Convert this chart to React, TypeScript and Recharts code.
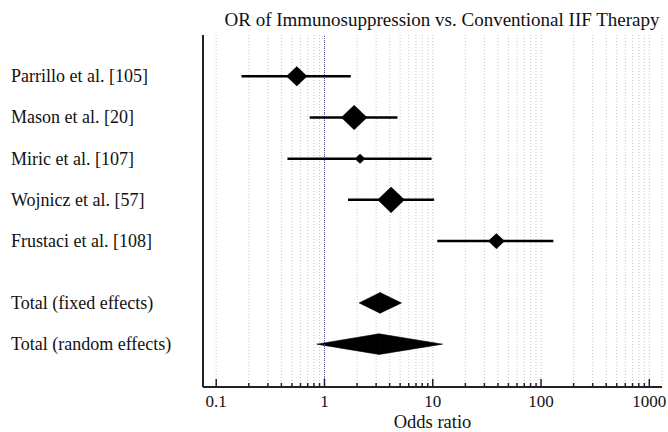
import React from "react";
import {
  ScatterChart, Scatter, XAxis, YAxis, CartesianGrid,
  ReferenceLine, ReferenceArea,
} from "recharts";

const FONT = "'Liberation Serif', 'Times New Roman', serif";

// individual studies
const studies = [
  "Parrillo et al. [105]",
  "Mason et al. [20]",
  "Miric et al. [107]",
  "Wojnicz et al. [57]",
  "Frustaci et al. [108]",
];
const studyOR = [0.555, 1.88, 2.13, 4.12, 38.7];
const studyLow = [0.171, 0.73, 0.455, 1.65, 11.0];
const studyHigh = [1.75, 4.72, 9.75, 10.3, 130];
const studyWeight = [19.5, 30.4, 4.9, 32.9, 12.3]; // % weight

// pooled estimates
const totals = ["Total (fixed effects)", "Total (random effects)"];
const totalOR = [3.26, 3.19];
const totalLow = [2.09, 0.85];
const totalHigh = [5.14, 12.3];

const majorTicks = [0.1, 1, 10, 100, 1000];
const minorSteps = [2, 3, 4, 5, 6, 7, 8, 9];

const gridTicks: number[] = [];
majorTicks.forEach((m, i) => {
  gridTicks.push(m);
  if (i < majorTicks.length - 1) minorSteps.forEach((s) => gridTicks.push(m * s));
});

const studyRows = studies.map((_, i) => i + 1);
const totalRows = totals.map((_, j) => studies.length + 1.5 + j);
const rowLabels = [...studies, ...totals];
const rowTicks = [...studyRows, ...totalRows];

const studyData = studies.map((name, i) => ({
  name, x: studyOR[i], y: studyRows[i], w: studyWeight[i],
}));

const isMajor = (v: number) => majorTicks.some((m) => Math.abs(m - v) / m < 1e-6);

const XTick = (props: any) => {
  const { x, y, payload } = props;
  const major = isMajor(payload.value);
  return (
    <g>
      <line x1={x} x2={x} y1={y} y2={y - (major ? 8 : 4)} stroke="#222" strokeWidth={1.5} />
      {major && (
        <text x={x} y={y + 20} textAnchor="middle" fontSize={17} fontFamily={FONT} fill="#111">
          {payload.value}
        </text>
      )}
    </g>
  );
};

const YTick = (props: any) => {
  const { y, payload } = props;
  const idx = rowTicks.findIndex((r) => Math.abs(r - payload.value) < 1e-6);
  return (
    <text x={11} y={y} dy="0.33em" textAnchor="start" fontSize={18} fontFamily={FONT} fill="#111">
      {rowLabels[idx]}
    </text>
  );
};

const StudyDiamond = (props: any) => {
  const { cx, cy, payload } = props;
  const h = 2.27 * Math.sqrt(payload.w);
  const w = h * 1.05;
  return (
    <polygon
      points={`${cx - w},${cy} ${cx},${cy - h} ${cx + w},${cy} ${cx},${cy + h}`}
      fill="#000"
    />
  );
};

const LeftHalf = (p: any) => (
  <polygon
    points={`${p.x},${p.y + p.height / 2} ${p.x + p.width},${p.y} ${p.x + p.width},${p.y + p.height}`}
    fill="#000"
    stroke="#000"
    strokeWidth={0.6}
  />
);
const RightHalf = (p: any) => (
  <polygon
    points={`${p.x},${p.y} ${p.x + p.width},${p.y + p.height / 2} ${p.x},${p.y + p.height}`}
    fill="#000"
    stroke="#000"
    strokeWidth={0.6}
  />
);

export default function App() {
  return (
    <div style={{ position: "absolute", left: 0, top: 0, width: 668, height: 432, background: "#fff" }}>
      <ScatterChart
        width={668}
        height={432}
        margin={{ top: 35, right: 6, bottom: 0, left: 0 }}
      >
        <text x={442} y={26} textAnchor="middle" fontSize={19} fontFamily={FONT} fill="#111">
          OR of Immunosuppression vs. Conventional IIF Therapy
        </text>
        <CartesianGrid horizontal={false} stroke="#c8c8c8" strokeDasharray="1 2" />
        <XAxis
          type="number"
          dataKey="x"
          scale="log"
          domain={[0.0755, 1310]}
          allowDataOverflow
          ticks={gridTicks}
          interval={0}
          tick={<XTick />}
          tickLine={false}
          tickSize={0}
          tickMargin={0}
          height={45}
          axisLine={{ stroke: "#222", strokeWidth: 2 }}
          label={{ value: "Odds ratio", position: "insideBottom", offset: 4, fontSize: 18.5, fontFamily: FONT, fill: "#111" }}
        />
        <YAxis
          type="number"
          dataKey="y"
          domain={[0, 8.54]}
          reversed
          allowDataOverflow
          ticks={rowTicks}
          interval={0}
          tick={<YTick />}
          tickLine={false}
          width={203}
          axisLine={{ stroke: "#222", strokeWidth: 2 }}
        />
        <ReferenceLine x={1} stroke="#55558a" strokeDasharray="1 1" strokeWidth={1} />
        {studies.map((s, i) => (
          <ReferenceLine
            key={s}
            segment={[{ x: studyLow[i], y: studyRows[i] }, { x: studyHigh[i], y: studyRows[i] }]}
            stroke="#000"
            strokeWidth={2.5}
          />
        ))}
        {totals.map((t, j) => (
          <ReferenceArea
            key={t + "L"}
            x1={totalLow[j]} x2={totalOR[j]}
            y1={totalRows[j] - 0.25} y2={totalRows[j] + 0.25}
            shape={LeftHalf}
          />
        ))}
        {totals.map((t, j) => (
          <ReferenceArea
            key={t + "R"}
            x1={totalOR[j]} x2={totalHigh[j]}
            y1={totalRows[j] - 0.25} y2={totalRows[j] + 0.25}
            shape={RightHalf}
          />
        ))}
        <Scatter data={studyData} shape={StudyDiamond} isAnimationActive={false} />
      </ScatterChart>
    </div>
  );
}
